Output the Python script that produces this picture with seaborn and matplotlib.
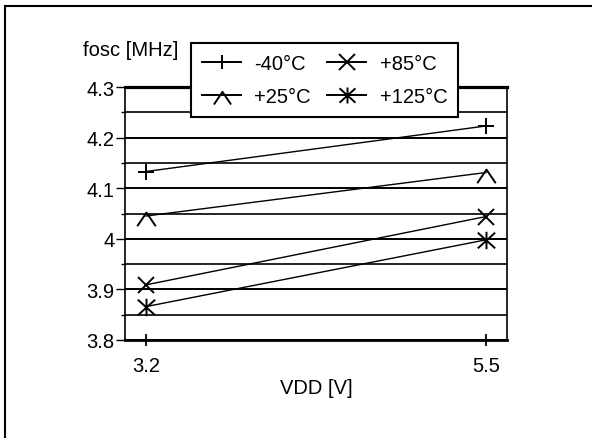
import pandas as pd
import seaborn as sns
import matplotlib.pyplot as plt
from matplotlib.patches import Rectangle
from matplotlib.lines import Line2D
from matplotlib.markers import MarkerStyle
from matplotlib.path import Path

vdd = [3.2, 5.5]
temps = ["-40°C", "+25°C", "+85°C", "+125°C"]
fosc_m40 = [4.133, 4.223]
fosc_p25 = [4.045, 4.131]
fosc_p85 = [3.909, 4.044]
fosc_p125 = [3.866, 3.998]

y_major = [3.8, 3.9, 4.0, 4.1, 4.2, 4.3]
y_major_labels = ["3.8", "3.9", "4", "4.1", "4.2", "4.3"]
y_minor = [3.85, 3.95, 4.05, 4.15, 4.25]
x_ticks = [3.2, 5.5]
x_tick_labels = ["3.2", "5.5"]

df = pd.DataFrame(
    {
        "VDD": vdd * 4,
        "fosc": fosc_m40 + fosc_p25 + fosc_p85 + fosc_p125,
        "temp": [t for t in temps for _ in vdd],
    }
)

plt.rcParams["font.family"] = ["Liberation Sans", "DejaVu Sans"]
plt.rcParams["font.size"] = 14.5

# open line-art shapes: chevron and x-with-bar star
M, L = Path.MOVETO, Path.LINETO
chevron = MarkerStyle(Path([(-9.5, -10), (0, 4), (9.5, -10)], [M, L, L]),
                      fillstyle="none")
star = MarkerStyle(Path([(-1, -0.9), (1, 0.9), (-1, 0.9), (1, -0.9), (0, -1), (0, 1)],
                        [M, L, M, L, M, L]), fillstyle="none")
marks = {"-40°C": "+", "+25°C": chevron, "+85°C": "x", "+125°C": star}
msize = {"-40°C": 11, "+25°C": 14, "+85°C": 12, "+125°C": 12.5}

fig = plt.figure(figsize=(5.92, 4.39), dpi=100)
ax = fig.add_axes([125 / 592, 1 - 341 / 439, 382 / 592, 253 / 439])

sns.lineplot(data=df, x="VDD", y="fosc", hue="temp", style="temp",
             markers=marks, dashes=False, palette=["black"] * 4,
             markersize=12, markeredgewidth=1.4, markeredgecolor="black",
             linewidth=1.0, legend=False, ax=ax, zorder=3)
for line, t in zip(ax.lines, temps):
    line.set_markersize(msize[t])

ax.set_xlim(3.058, 5.642)
ax.set_ylim(3.8, 4.3)
ax.set_yticks(y_major)
ax.set_yticklabels(y_major_labels)
ax.set_yticks(y_minor, minor=True)
ax.set_xticks(x_ticks)
ax.set_xticklabels(x_tick_labels)

ax.grid(axis="y", which="major", color="black", linewidth=1.4, zorder=1)
ax.grid(axis="y", which="minor", color="black", linewidth=1.2, zorder=1)
ax.grid(axis="x", visible=False)
ax.set_axisbelow(True)

for s in ["left", "right"]:
    ax.spines[s].set_linewidth(1.2)
ax.spines["bottom"].set_linewidth(2.0)
ax.spines["top"].set_linewidth(2.3)

ax.tick_params(axis="y", which="major", direction="out", length=6.5, width=1.0, pad=1)
ax.tick_params(axis="y", which="minor", direction="out", length=3, width=1.0)
ax.tick_params(axis="x", direction="inout", length=9, width=1.3, pad=7)

ax.set_xlabel("VDD [V]")
ax.xaxis.set_label_coords(0.5, -0.186)
ax.xaxis.label.set_va("center")
ax.set_ylabel("fosc [MHz]", rotation=0, ha="left", va="center")
ax.yaxis.set_label_coords(-0.11, 1.15)

handles = [Line2D([], [], color="black", marker=marks[t], markersize=msize[t] - 1,
                  markeredgewidth=1.4, linewidth=1.4) for t in temps]
leg = fig.legend(handles, temps, ncol=2, loc="upper left",
                 bbox_to_anchor=(191 / 592, 1 - 44 / 439),
                 frameon=True, fancybox=False, edgecolor="black",
                 framealpha=1, borderpad=0.55, borderaxespad=0,
                 handlelength=1.95, handletextpad=0.65, columnspacing=0.8,
                 labelspacing=0.7)
leg.get_frame().set_linewidth(1.5)

fig.patches.append(Rectangle((5 / 592, -0.5), 2, 1.5 - 7 / 439,
                             transform=fig.transFigure, fill=False,
                             edgecolor="black", linewidth=1.5))

fig.savefig("out.png", dpi=100)
